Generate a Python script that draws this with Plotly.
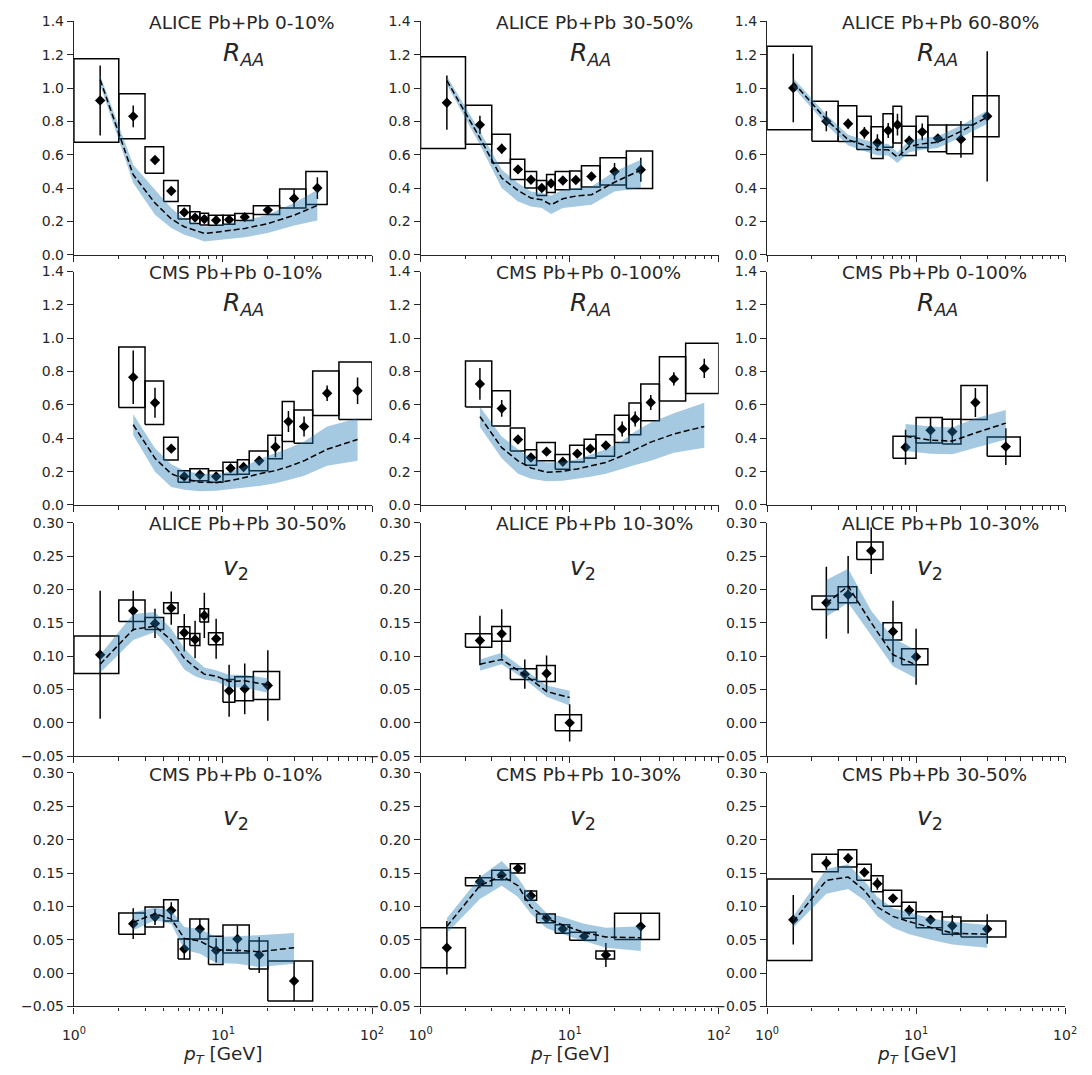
import plotly.graph_objects as go

# ---------------- data ----------------
# Row 1: ALICE R_AA
A1_LO = [1, 2, 3, 4, 5, 6, 7, 8, 10, 12, 16, 24, 36]
A1_HI = [2, 3, 4, 5, 6, 7, 8, 10, 12, 16, 24, 36, 50]
A1_PT = [1.5, 2.5, 3.5, 4.5, 5.5, 6.5, 7.5, 9, 11, 14, 20, 30, 43]
A1_VAL = [0.925, 0.83, 0.568, 0.382, 0.254, 0.223, 0.214, 0.207, 0.21, 0.226, 0.268, 0.338, 0.40]
A1_STAT = [0.21, 0.065, 0.025, 0.018, 0.012, 0.012, 0.012, 0.01, 0.01, 0.01, 0.015, 0.055, 0.065]
A1_SYS = [0.25, 0.135, 0.079, 0.063, 0.04, 0.035, 0.035, 0.03, 0.027, 0.021, 0.026, 0.057, 0.099]
A1_TH = [1.05, 0.48, 0.31, 0.215, 0.168, 0.148, 0.128, 0.135, 0.146, 0.158, 0.187, 0.237, 0.296]
A1_TH_LO = [1.02, 0.43, 0.24, 0.16, 0.12, 0.10, 0.08, 0.085, 0.095, 0.105, 0.13, 0.175, 0.205]
A1_TH_HI = [1.075, 0.54, 0.39, 0.28, 0.215, 0.19, 0.17, 0.175, 0.19, 0.205, 0.24, 0.31, 0.39]

A2_LO = [1, 2, 3, 4, 5, 6, 7, 8, 10, 12, 16, 24]
A2_HI = [2, 3, 4, 5, 6, 7, 8, 10, 12, 16, 24, 36]
A2_PT = [1.5, 2.5, 3.5, 4.5, 5.5, 6.5, 7.5, 9, 11, 14, 20, 30]
A2_VAL = [0.912, 0.779, 0.636, 0.512, 0.45, 0.40, 0.428, 0.445, 0.448, 0.47, 0.50, 0.51]
A2_STAT = [0.163, 0.055, 0.03, 0.02, 0.02, 0.02, 0.025, 0.02, 0.02, 0.025, 0.05, 0.072]
A2_SYS = [0.275, 0.117, 0.086, 0.061, 0.05, 0.045, 0.054, 0.055, 0.055, 0.064, 0.082, 0.113]
A2_TH = [1.044, 0.70, 0.46, 0.386, 0.34, 0.33, 0.30, 0.336, 0.352, 0.36, 0.435, 0.508]
A2_TH_LO = [1.02, 0.66, 0.40, 0.32, 0.29, 0.28, 0.245, 0.28, 0.29, 0.30, 0.38, 0.40]
A2_TH_HI = [1.07, 0.74, 0.51, 0.43, 0.38, 0.37, 0.355, 0.39, 0.40, 0.41, 0.50, 0.57]

A3_LO = [1, 2, 3, 4, 5, 6, 7, 8, 10, 12, 16, 24]
A3_HI = [2, 3, 4, 5, 6, 7, 8, 10, 12, 16, 24, 36]
A3_PT = [1.5, 2.5, 3.5, 4.5, 5.5, 6.5, 7.5, 9, 11, 14, 20, 30]
A3_VAL = [1.0, 0.80, 0.786, 0.731, 0.672, 0.745, 0.78, 0.683, 0.737, 0.698, 0.692, 0.83]
A3_STAT = [0.205, 0.06, 0.03, 0.035, 0.05, 0.045, 0.065, 0.03, 0.05, 0.02, 0.11, 0.39]
A3_SYS = [0.25, 0.12, 0.107, 0.10, 0.095, 0.10, 0.11, 0.087, 0.094, 0.08, 0.086, 0.123]
A3_TH = [1.035, 0.81, 0.69, 0.655, 0.63, 0.63, 0.585, 0.65, 0.665, 0.675, 0.74, 0.825]
A3_TH_LO = [1.005, 0.78, 0.655, 0.62, 0.595, 0.595, 0.55, 0.615, 0.63, 0.64, 0.705, 0.785]
A3_TH_HI = [1.06, 0.84, 0.72, 0.69, 0.665, 0.665, 0.615, 0.685, 0.70, 0.71, 0.775, 0.865]

# Row 2: CMS R_AA
C1_LO = [2, 3, 4, 5, 6, 8, 10, 12.5, 15, 20, 25, 30, 40, 60]
C1_HI = [3, 4, 5, 6, 8, 10, 12.5, 15, 20, 25, 30, 40, 60, 100]
C1_PT = [2.5, 3.5, 4.5, 5.5, 7, 9, 11.25, 13.75, 17.5, 22.5, 27.5, 35, 50, 80]
C1_VAL = [0.766, 0.613, 0.338, 0.171, 0.181, 0.171, 0.22, 0.228, 0.265, 0.348, 0.50, 0.47, 0.67, 0.685]
C1_STAT = [0.16, 0.09, 0.025, 0.012, 0.012, 0.012, 0.015, 0.015, 0.025, 0.062, 0.063, 0.06, 0.047, 0.08]
C1_SYS = [0.182, 0.13, 0.068, 0.034, 0.036, 0.035, 0.037, 0.043, 0.059, 0.07, 0.12, 0.1, 0.133, 0.172]
C1_TH = [0.481, 0.28, 0.187, 0.157, 0.137, 0.134, 0.147, 0.163, 0.187, 0.206, 0.23, 0.265, 0.334, 0.393]
C1_TH_LO = [0.418, 0.20, 0.108, 0.092, 0.082, 0.085, 0.095, 0.105, 0.114, 0.13, 0.15, 0.175, 0.236, 0.265]
C1_TH_HI = [0.544, 0.34, 0.245, 0.206, 0.187, 0.185, 0.20, 0.23, 0.275, 0.31, 0.34, 0.38, 0.47, 0.52]

C2_LO = [2, 3, 4, 5, 6, 8, 10, 12.5, 15, 20, 25, 30, 40, 60]
C2_HI = [3, 4, 5, 6, 8, 10, 12.5, 15, 20, 25, 30, 40, 60, 100]
C2_PT = [2.5, 3.5, 4.5, 5.5, 7, 9, 11.25, 13.75, 17.5, 22.5, 27.5, 35, 50, 80]
C2_VAL = [0.726, 0.579, 0.393, 0.285, 0.32, 0.259, 0.308, 0.338, 0.357, 0.456, 0.516, 0.615, 0.756, 0.819]
C2_STAT = [0.095, 0.05, 0.02, 0.015, 0.015, 0.015, 0.015, 0.015, 0.015, 0.045, 0.045, 0.045, 0.04, 0.058]
C2_SYS = [0.138, 0.106, 0.069, 0.047, 0.054, 0.044, 0.05, 0.056, 0.064, 0.082, 0.095, 0.11, 0.133, 0.151]
C2_TH = [0.53, 0.344, 0.265, 0.222, 0.196, 0.202, 0.216, 0.232, 0.255, 0.295, 0.33, 0.377, 0.426, 0.471]
C2_TH_LO = [0.467, 0.28, 0.187, 0.157, 0.143, 0.145, 0.157, 0.17, 0.187, 0.216, 0.24, 0.265, 0.314, 0.344]
C2_TH_HI = [0.589, 0.41, 0.334, 0.28, 0.255, 0.26, 0.275, 0.30, 0.334, 0.383, 0.44, 0.495, 0.55, 0.613]

C3_LO = [7, 10, 15, 20, 30]
C3_HI = [10, 15, 20, 30, 50]
C3_PT = [8.5, 12.5, 17.5, 25, 40]
C3_VAL = [0.346, 0.448, 0.44, 0.615, 0.35]
C3_STAT = [0.105, 0.075, 0.07, 0.087, 0.11]
C3_SYS = [0.066, 0.076, 0.074, 0.102, 0.057]
C3_TH = [0.412, 0.389, 0.383, 0.432, 0.491]
C3_TH_LO = [0.324, 0.308, 0.304, 0.344, 0.393]
C3_TH_HI = [0.485, 0.471, 0.465, 0.52, 0.569]

# Row 3: ALICE v2
V1_LO = [1, 2, 3, 4, 5, 6, 7, 8, 10, 12, 16]
V1_HI = [2, 3, 4, 5, 6, 7, 8, 10, 12, 16, 24]
V1_PT = [1.5, 2.5, 3.5, 4.5, 5.5, 6.5, 7.5, 9, 11, 14, 20]
V1_VAL = [0.102, 0.168, 0.149, 0.172, 0.135, 0.125, 0.161, 0.126, 0.048, 0.051, 0.056]
V1_STAT = [0.096, 0.03, 0.022, 0.025, 0.028, 0.028, 0.034, 0.03, 0.039, 0.038, 0.053]
V1_SYS = [0.028, 0.016, 0.009, 0.008, 0.009, 0.009, 0.01, 0.009, 0.017, 0.018, 0.021]
V1_TH = [0.088, 0.14, 0.145, 0.124, 0.097, 0.083, 0.073, 0.07, 0.062, 0.063, 0.057]
V1_TH_LO = [0.075, 0.124, 0.136, 0.109, 0.08, 0.07, 0.065, 0.062, 0.053, 0.053, 0.045]
V1_TH_HI = [0.102, 0.163, 0.166, 0.141, 0.112, 0.095, 0.083, 0.079, 0.072, 0.072, 0.067]

V2_LO = [2, 3, 4, 6, 8]
V2_HI = [3, 4, 6, 8, 12]
V2_PT = [2.5, 3.5, 5, 7, 10]
V2_VAL = [0.1235, 0.1334, 0.073, 0.074, 0.0]
V2_STAT = [0.037, 0.037, 0.022, 0.027, 0.028]
V2_SYS = [0.01, 0.011, 0.008, 0.012, 0.012]
V2_TH = [0.088, 0.095, 0.072, 0.047, 0.038]
V2_TH_LO = [0.078, 0.088, 0.065, 0.039, 0.026]
V2_TH_HI = [0.095, 0.105, 0.080, 0.056, 0.048]

V3_LO = [2, 3, 4, 6, 8]
V3_HI = [3, 4, 6, 8, 12]
V3_PT = [2.5, 3.5, 5, 7, 10]
V3_VAL = [0.18, 0.192, 0.258, 0.137, 0.099]
V3_STAT = [0.054, 0.058, 0.035, 0.046, 0.042]
V3_SYS = [0.01, 0.012, 0.013, 0.013, 0.012]
V3_TH = [0.179, 0.205, 0.15, 0.102, 0.087]
V3_TH_LO = [0.159, 0.18, 0.131, 0.085, 0.067]
V3_TH_HI = [0.214, 0.231, 0.168, 0.127, 0.109]

# Row 4: CMS v2
W1_LO = [2, 3, 4, 5, 6, 8, 10, 15, 20]
W1_HI = [3, 4, 5, 6, 8, 10, 15, 20, 40]
W1_PT = [2.5, 3.5, 4.5, 5.5, 7, 9, 12.5, 17.5, 30]
W1_VAL = [0.074, 0.084, 0.094, 0.036, 0.066, 0.034, 0.051, 0.027, -0.012]
W1_STAT = [0.023, 0.012, 0.012, 0.015, 0.015, 0.018, 0.02, 0.027, 0.03]
W1_SYS = [0.016, 0.015, 0.016, 0.015, 0.015, 0.021, 0.021, 0.021, 0.03]
W1_TH = [0.076, 0.089, 0.081, 0.052, 0.048, 0.035, 0.034, 0.032, 0.038]
W1_TH_LO = [0.064, 0.079, 0.074, 0.035, 0.029, 0.015, 0.014, 0.009, 0.014]
W1_TH_HI = [0.091, 0.098, 0.094, 0.069, 0.066, 0.054, 0.055, 0.057, 0.06]

W2_LO = [1, 2, 3, 4, 5, 6, 8, 10, 15, 20]
W2_HI = [2, 3, 4, 5, 6, 8, 10, 15, 20, 40]
W2_PT = [1.5, 2.5, 3.5, 4.5, 5.5, 7, 9, 12.5, 17.5, 30]
W2_VAL = [0.038, 0.137, 0.147, 0.157, 0.116, 0.082, 0.066, 0.055, 0.027, 0.07]
W2_STAT = [0.04, 0.01, 0.008, 0.006, 0.008, 0.006, 0.006, 0.006, 0.018, 0.02]
W2_SYS = [0.03, 0.006, 0.007, 0.007, 0.007, 0.0064, 0.0064, 0.006, 0.006, 0.0196]
W2_TH = [0.07, 0.131, 0.146, 0.131, 0.099, 0.082, 0.072, 0.061, 0.054, 0.053]
W2_TH_LO = [0.06, 0.111, 0.131, 0.114, 0.089, 0.067, 0.058, 0.048, 0.038, 0.033]
W2_TH_HI = [0.082, 0.144, 0.168, 0.143, 0.114, 0.09, 0.084, 0.074, 0.068, 0.07]

W3_LO = [1, 2, 3, 4, 5, 6, 8, 10, 15, 20]
W3_HI = [2, 3, 4, 5, 6, 8, 10, 15, 20, 40]
W3_PT = [1.5, 2.5, 3.5, 4.5, 5.5, 7, 9, 12.5, 17.5, 30]
W3_VAL = [0.08, 0.165, 0.172, 0.151, 0.134, 0.112, 0.094, 0.08, 0.071, 0.066]
W3_STAT = [0.037, 0.01, 0.007, 0.007, 0.009, 0.006, 0.008, 0.007, 0.016, 0.022]
W3_SYS = [0.061, 0.013, 0.013, 0.012, 0.012, 0.012, 0.012, 0.012, 0.013, 0.012]
W3_TH = [0.077, 0.139, 0.144, 0.124, 0.099, 0.085, 0.077, 0.069, 0.06, 0.058]
W3_TH_LO = [0.068, 0.119, 0.126, 0.109, 0.085, 0.068, 0.058, 0.05, 0.043, 0.038]
W3_TH_HI = [0.085, 0.156, 0.163, 0.138, 0.114, 0.097, 0.091, 0.082, 0.077, 0.072]

TITLES = [
    ["ALICE Pb+Pb 0-10%", "ALICE Pb+Pb 30-50%", "ALICE Pb+Pb 60-80%"],
    ["CMS Pb+Pb 0-10%", "CMS Pb+Pb 0-100%", "CMS Pb+Pb 0-100%"],
    ["ALICE Pb+Pb 30-50%", "ALICE Pb+Pb 10-30%", "ALICE Pb+Pb 10-30%"],
    ["CMS Pb+Pb 0-10%", "CMS Pb+Pb 10-30%", "CMS Pb+Pb 30-50%"],
]
OBS_LABELS = ["<i>R</i><sub><i>AA</i></sub>", "<i>R</i><sub><i>AA</i></sub>",
              "<i>v</i><sub>2</sub>", "<i>v</i><sub>2</sub>"]
RAA_TICKS = [0.0, 0.2, 0.4, 0.6, 0.8, 1.0, 1.2, 1.4]
V2_TICKS = [-0.05, 0.0, 0.05, 0.10, 0.15, 0.20, 0.25, 0.30]
X_TICKS = [1, 10, 100]
X_TICK_TEXT = ["10<sup>0</sup>", "10<sup>1</sup>", "10<sup>2</sup>"]
X_MINOR = [2, 3, 4, 5, 6, 7, 8, 9, 20, 30, 40, 50, 60, 70, 80, 90]

PANELS = [
    [(A1_LO, A1_HI, A1_PT, A1_VAL, A1_STAT, A1_SYS, A1_TH, A1_TH_LO, A1_TH_HI),
     (A2_LO, A2_HI, A2_PT, A2_VAL, A2_STAT, A2_SYS, A2_TH, A2_TH_LO, A2_TH_HI),
     (A3_LO, A3_HI, A3_PT, A3_VAL, A3_STAT, A3_SYS, A3_TH, A3_TH_LO, A3_TH_HI)],
    [(C1_LO, C1_HI, C1_PT, C1_VAL, C1_STAT, C1_SYS, C1_TH, C1_TH_LO, C1_TH_HI),
     (C2_LO, C2_HI, C2_PT, C2_VAL, C2_STAT, C2_SYS, C2_TH, C2_TH_LO, C2_TH_HI),
     (C3_LO, C3_HI, C3_PT, C3_VAL, C3_STAT, C3_SYS, C3_TH, C3_TH_LO, C3_TH_HI)],
    [(V1_LO, V1_HI, V1_PT, V1_VAL, V1_STAT, V1_SYS, V1_TH, V1_TH_LO, V1_TH_HI),
     (V2_LO, V2_HI, V2_PT, V2_VAL, V2_STAT, V2_SYS, V2_TH, V2_TH_LO, V2_TH_HI),
     (V3_LO, V3_HI, V3_PT, V3_VAL, V3_STAT, V3_SYS, V3_TH, V3_TH_LO, V3_TH_HI)],
    [(W1_LO, W1_HI, W1_PT, W1_VAL, W1_STAT, W1_SYS, W1_TH, W1_TH_LO, W1_TH_HI),
     (W2_LO, W2_HI, W2_PT, W2_VAL, W2_STAT, W2_SYS, W2_TH, W2_TH_LO, W2_TH_HI),
     (W3_LO, W3_HI, W3_PT, W3_VAL, W3_STAT, W3_SYS, W3_TH, W3_TH_LO, W3_TH_HI)],
]

# ---------------- layout geometry (pixels) ----------------
FIG_W, FIG_H = 1092, 1075
COL_LEFT = [63.3, 417.8, 772.0]
COL_W = 304.8
ROW_TOP = [13.5, 267.5, 522.5, 776.5]
ROW_H = 237.0

INK = "#262626"
BAND = "rgba(31,119,180,0.4)"
FONT = "DejaVu Sans"

fig = go.Figure()
layout = dict(
    width=FIG_W, height=FIG_H,
    margin=dict(l=0, r=0, t=0, b=0),
    paper_bgcolor="white", plot_bgcolor="white",
    showlegend=False,
    font=dict(family=FONT, color=INK, size=14),
)
annotations = []

for r in range(4):
    for c in range(3):
        idx = r * 3 + c + 1
        xa = "x" if idx == 1 else f"x{idx}"
        ya = "y" if idx == 1 else f"y{idx}"
        lo, hi, pt, val, stat, sys_, th, th_lo, th_hi = PANELS[r][c]

        # systematic boxes
        bx, by = [], []
        for a, b, v, s in zip(lo, hi, val, sys_):
            bx += [a, b, b, a, a, None]
            by += [v - s, v - s, v + s, v + s, v - s, None]
        fig.add_trace(go.Scatter(x=bx, y=by, mode="lines", xaxis=xa, yaxis=ya,
                                 line=dict(color="black", width=1.5), hoverinfo="skip"))
        # data points with stat errors
        fig.add_trace(go.Scatter(x=pt, y=val, mode="markers", xaxis=xa, yaxis=ya,
                                 marker=dict(symbol="diamond", size=8, color="black"),
                                 error_y=dict(type="data", array=stat, color="black",
                                              thickness=1.5, width=0)))
        # theory band
        fig.add_trace(go.Scatter(x=pt + pt[::-1], y=th_hi + th_lo[::-1], mode="lines",
                                 xaxis=xa, yaxis=ya, fill="toself", fillcolor=BAND,
                                 line=dict(width=0, color=BAND), hoverinfo="skip"))
        # theory central
        fig.add_trace(go.Scatter(x=pt, y=th, mode="lines", xaxis=xa, yaxis=ya,
                                 line=dict(color="black", width=1.5, dash="6px,3px")))

        x0 = COL_LEFT[c] / FIG_W
        x1 = (COL_LEFT[c] + COL_W) / FIG_W
        y1 = 1 - ROW_TOP[r] / FIG_H
        y0 = 1 - (ROW_TOP[r] + ROW_H) / FIG_H
        is_raa = r < 2
        xkey = "xaxis" if idx == 1 else f"xaxis{idx}"
        ykey = "yaxis" if idx == 1 else f"yaxis{idx}"
        layout[xkey] = dict(
            domain=[x0, x1], anchor=ya, type="log", range=[0, 2],
            showline=True, linecolor=INK, linewidth=1.2, mirror=False,
            showgrid=False, zeroline=False,
            ticks="outside", ticklen=6, tickwidth=1.2, tickcolor=INK,
            tickmode="array", tickvals=X_TICKS, ticktext=X_TICK_TEXT,
            showticklabels=(r == 3), ticklabelstandoff=10,
            tickfont=dict(size=14, color=INK, family=FONT),
            minor=dict(tickmode="array", tickvals=X_MINOR, ticks="outside",
                       ticklen=3.5, tickwidth=1, tickcolor=INK, showgrid=False),
        )
        layout[ykey] = dict(
            domain=[y0, y1], anchor=xa,
            range=[0, 1.4] if is_raa else [-0.05, 0.30],
            showline=True, linecolor=INK, linewidth=1.2, mirror=False,
            showgrid=False, zeroline=False,
            ticks="outside", ticklen=6, tickwidth=1.2, tickcolor=INK,
            tickmode="array", tickvals=RAA_TICKS if is_raa else V2_TICKS,
            tickformat=".1f" if is_raa else ".2f",
            tickfont=dict(size=14, color=INK, family=FONT),
        )
        annotations.append(dict(
            text=TITLES[r][c], xref=f"{xa} domain", yref=f"{ya} domain",
            x=0.245, y=0.995, xanchor="left", yanchor="middle", showarrow=False,
            font=dict(size=18.5, color=INK, family=FONT)))
        annotations.append(dict(
            text=OBS_LABELS[r], xref=f"{xa} domain", yref=f"{ya} domain",
            x=0.495, y=0.86 if is_raa else 0.807, xanchor="left", yanchor="middle",
            showarrow=False, font=dict(size=25, color=INK, family=FONT)))
        if r == 3:
            annotations.append(dict(
                text="<i>p</i><sub><i>T</i></sub> [GeV]", xref=f"{xa} domain",
                yref="paper", x=0.5, y=1 - 1063 / FIG_H, xanchor="center",
                yanchor="middle", showarrow=False,
                font=dict(size=18.5, color=INK, family=FONT)))

layout["annotations"] = annotations
fig.update_layout(**layout)
fig.write_html("out.html")
